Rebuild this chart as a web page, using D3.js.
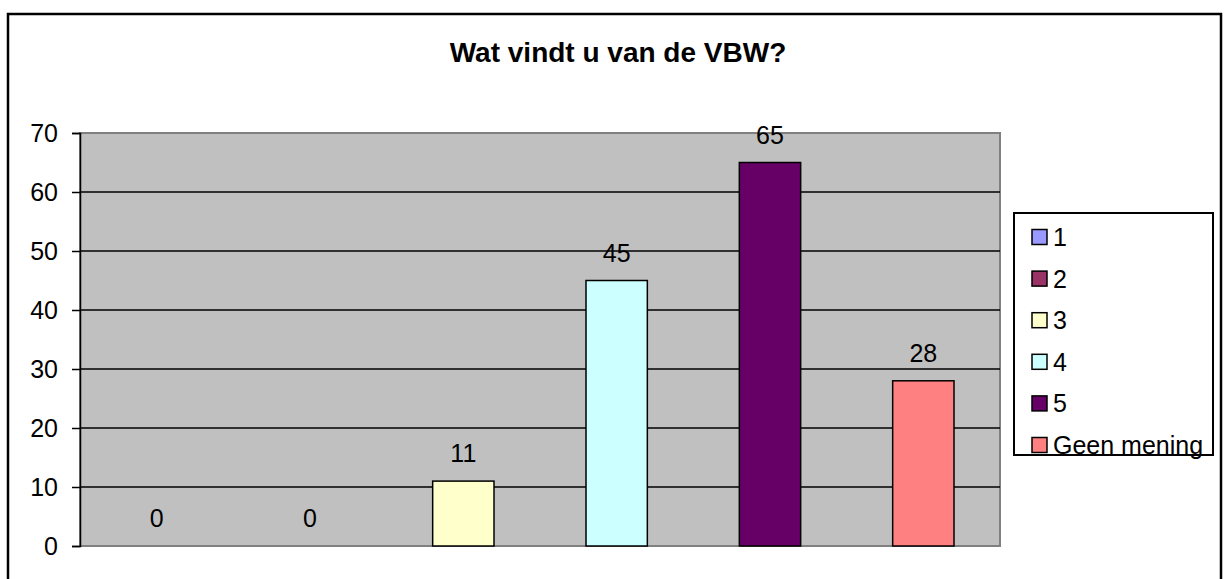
<!DOCTYPE html>
<html>
<head>
<meta charset="utf-8">
<script src="https://cdn.jsdelivr.net/npm/d3@7"></script>
<style>
  body { margin: 0; background: #fff; }
  svg { display: block; font-family: Arial, "Liberation Sans", sans-serif; }
</style>
</head>
<body>
<div id="chart"></div>
<script>
const categories = ["1", "2", "3", "4", "5", "Geen mening"];
const values = [0, 0, 11, 45, 65, 28];
const colors = ["#9999FF", "#993366", "#FFFFCC", "#CCFFFF", "#660066", "#FF8080"];
const yTicks = [0, 10, 20, 30, 40, 50, 60, 70];
const title = "Wat vindt u van de VBW?";

const width = 1226;
const height = 579;
const plot = { left: 80, top: 133, right: 1000, bottom: 546 };

const data = categories.map((c, i) => ({ cat: c, value: values[i], color: colors[i] }));

const svg = d3
  .select("#chart")
  .append("svg")
  .attr("width", width)
  .attr("height", height);

// cadre extérieur
svg
  .append("rect")
  .attr("x", 8)
  .attr("y", 14)
  .attr("width", 1213)
  .attr("height", 600)
  .attr("fill", "#fff")
  .attr("stroke", "#000")
  .attr("stroke-width", 2.5);

svg
  .append("text")
  .attr("x", 618)
  .attr("y", 62)
  .attr("text-anchor", "middle")
  .attr("font-size", "28px")
  .attr("font-weight", "bold")
  .text(title);

const x = d3
  .scaleBand()
  .domain(categories)
  .range([plot.left, plot.right])
  .paddingInner(0.6)
  .paddingOuter(0.3);

const y = d3.scaleLinear().domain([0, 70]).range([plot.bottom, plot.top]);

// fond gris
svg
  .append("rect")
  .attr("x", plot.left)
  .attr("y", plot.top)
  .attr("width", plot.right - plot.left)
  .attr("height", plot.bottom - plot.top)
  .attr("fill", "#C0C0C0")
  .attr("stroke", "#808080")
  .attr("stroke-width", 2);

// grille
svg
  .append("g")
  .selectAll("line")
  .data(yTicks.filter((d) => d > 0 && d < 70))
  .join("line")
  .attr("x1", plot.left)
  .attr("x2", plot.right)
  .attr("y1", (d) => y(d))
  .attr("y2", (d) => y(d))
  .attr("stroke", "#000")
  .attr("stroke-width", 1.5);

// axe Y
const yAxis = svg
  .append("g")
  .attr("transform", `translate(${plot.left},0)`)
  .call(d3.axisLeft(y).tickValues(yTicks).tickSize(8).tickPadding(14));
yAxis.select(".domain").attr("stroke", "#000").attr("stroke-width", 1.5);
yAxis.selectAll(".tick line").attr("stroke", "#000").attr("stroke-width", 1.5);
yAxis
  .selectAll(".tick text")
  .attr("font-size", "25px")
  .attr("font-family", "Arial, 'Liberation Sans', sans-serif")
  .attr("fill", "#000");

// barres
svg
  .append("g")
  .selectAll("rect")
  .data(data.filter((d) => d.value > 0))
  .join("rect")
  .attr("x", (d) => x(d.cat))
  .attr("y", (d) => y(d.value))
  .attr("width", x.bandwidth())
  .attr("height", (d) => y(0) - y(d.value))
  .attr("fill", (d) => d.color)
  .attr("stroke", "#000")
  .attr("stroke-width", 1.5);

// étiquettes
svg
  .append("g")
  .selectAll("text")
  .data(data)
  .join("text")
  .attr("x", (d) => x(d.cat) + x.bandwidth() / 2)
  .attr("y", (d) => y(d.value) - 19)
  .attr("text-anchor", "middle")
  .attr("font-size", "25px")
  .text((d) => d.value);

// légende
const legend = svg.append("g");
legend
  .append("rect")
  .attr("x", 1014)
  .attr("y", 213)
  .attr("width", 199)
  .attr("height", 242)
  .attr("fill", "#fff")
  .attr("stroke", "#000")
  .attr("stroke-width", 2);

const item = legend
  .selectAll("g")
  .data(data)
  .join("g")
  .attr("transform", (d, i) => `translate(1032,${237 + i * 41.6})`);
item
  .append("rect")
  .attr("x", 0)
  .attr("y", -7.5)
  .attr("width", 15)
  .attr("height", 15)
  .attr("fill", (d) => d.color)
  .attr("stroke", "#000")
  .attr("stroke-width", 1.5);
item
  .append("text")
  .attr("x", 21)
  .attr("y", 9)
  .attr("font-size", "25px")
  .text((d) => d.cat);
</script>
</body>
</html>
